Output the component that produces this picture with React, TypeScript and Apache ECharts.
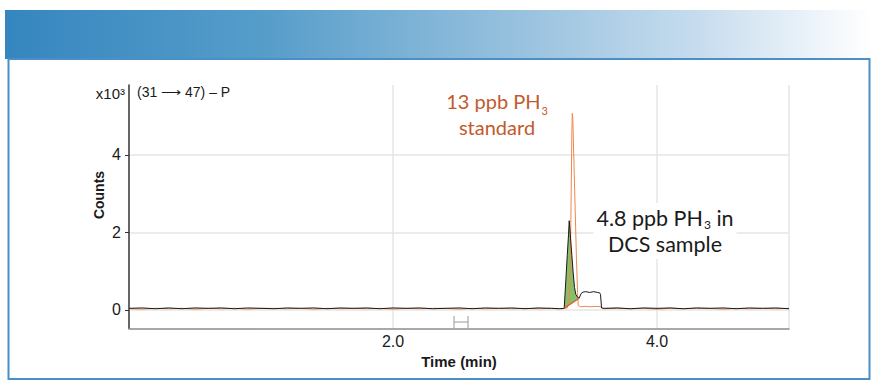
import React, { useEffect, useRef } from "react";
import * as echarts from "echarts";

// [time (min), counts (x10^3)] — 4.8 ppb PH3 in DCS sample (black)
const sampleTrace: [number, number][] = [
  [0.0, 0.04], [0.1, 0.05], [0.2, 0.03], [0.3, 0.05], [0.4, 0.03], [0.5, 0.05], [0.6, 0.04], [0.7, 0.05],
  [0.8, 0.03], [0.9, 0.05], [1.0, 0.04], [1.1, 0.03], [1.2, 0.05], [1.3, 0.04], [1.4, 0.05], [1.5, 0.03],
  [1.6, 0.05], [1.7, 0.04], [1.8, 0.05], [1.9, 0.03], [2.0, 0.05], [2.1, 0.04], [2.2, 0.05], [2.3, 0.03],
  [2.4, 0.04], [2.5, 0.05], [2.6, 0.03], [2.7, 0.05], [2.8, 0.04], [2.9, 0.05], [3.0, 0.03], [3.1, 0.05],
  [3.2, 0.04], [3.26, 0.03],
  [3.297, 0.04], [3.31, 0.8], [3.32, 1.4], [3.33, 1.95], [3.335, 2.3], [3.345, 1.85], [3.355, 1.4],
  [3.365, 0.95], [3.375, 0.58], [3.385, 0.4], [3.4, 0.32], [3.41, 0.3],
  [3.425, 0.42], [3.44, 0.46], [3.46, 0.47], [3.49, 0.45], [3.52, 0.47], [3.55, 0.45], [3.565, 0.44],
  [3.572, 0.4], [3.58, 0.05],
  [3.6, 0.04], [3.7, 0.05], [3.8, 0.03], [3.9, 0.05], [4.0, 0.04], [4.1, 0.05], [4.2, 0.03], [4.3, 0.05],
  [4.4, 0.04], [4.5, 0.05], [4.6, 0.03], [4.7, 0.05], [4.8, 0.04], [4.9, 0.05], [5.0, 0.03],
];

// [time (min), counts (x10^3)] — 13 ppb PH3 standard (orange)
const standardTrace: [number, number][] = [
  [0.0, 0.03], [0.1, 0.02], [0.2, 0.04], [0.3, 0.03], [0.4, 0.04], [0.5, 0.02], [0.6, 0.04], [0.7, 0.03],
  [0.8, 0.04], [0.9, 0.02], [1.0, 0.04], [1.1, 0.04], [1.2, 0.03], [1.3, 0.04], [1.4, 0.02], [1.5, 0.04],
  [1.6, 0.03], [1.7, 0.04], [1.8, 0.03], [1.9, 0.04], [2.0, 0.02], [2.1, 0.04], [2.2, 0.03], [2.3, 0.04],
  [2.4, 0.04], [2.5, 0.02], [2.6, 0.04], [2.7, 0.03], [2.8, 0.04], [2.9, 0.03], [3.0, 0.04], [3.1, 0.03],
  [3.2, 0.04], [3.28, 0.03],
  [3.32, 0.05], [3.335, 0.3], [3.342, 0.9], [3.35, 3.0], [3.355, 4.6], [3.358, 5.07], [3.362, 4.95],
  [3.37, 3.9], [3.38, 2.6], [3.39, 1.3], [3.398, 0.45], [3.403, 0.12],
  [3.42, 0.08], [3.46, 0.09], [3.5, 0.08], [3.54, 0.09], [3.575, 0.08], [3.59, 0.03],
  [3.7, 0.04], [3.8, 0.03], [3.9, 0.04], [4.0, 0.02], [4.1, 0.04], [4.2, 0.03], [4.3, 0.04], [4.4, 0.04],
  [4.5, 0.02], [4.6, 0.04], [4.7, 0.03], [4.8, 0.04], [4.9, 0.03], [5.0, 0.04],
];

// integration baseline under the sample peak
const integrationBaseline: [number, number][] = [[3.297, 0.04], [3.41, 0.3]];

const yTickValues = [0, 2, 4];
const xLabelValues = [2, 4];
const xGridValues = [2, 4, 5];

const Y_MIN = -0.48;
const Y_MAX = 5.8;
const X_MIN = 0;
const X_MAX = 5;

const TEXT = "#1a1a1a";
const SANS = "'Liberation Sans', Arial, sans-serif";
const ANNO = "Lato, 'Open Sans', sans-serif";

export default function App() {
  const ref = useRef<HTMLDivElement>(null);

  useEffect(() => {
    if (!ref.current) return;
    const chart = echarts.init(ref.current, undefined, { renderer: "svg" });

    const peakPolygon = sampleTrace.filter(
      (p) => p[0] >= integrationBaseline[0][0] && p[0] <= integrationBaseline[1][0]
    );

    const option: any = {
      animation: false,
      backgroundColor: "#ffffff",
      grid: { left: 129, right: 91, top: 85, bottom: 59.5, containLabel: false, outerBoundsMode: "none" },
      xAxis: {
        type: "value",
        min: X_MIN,
        max: X_MAX,
        name: "Time (min)",
        nameLocation: "middle",
        nameGap: 23,
        nameTextStyle: { fontFamily: SANS, fontWeight: "bold", fontSize: 15, color: TEXT },
        axisLine: { show: true, onZero: false, lineStyle: { color: "#8c8c8c", width: 1.5 } },
        axisTick: { show: false, customValues: xGridValues },
        axisLabel: {
          customValues: xLabelValues,
          formatter: (v: number) => v.toFixed(1),
          fontFamily: SANS,
          fontSize: 16,
          color: TEXT,
          margin: 5,
        },
        splitLine: { show: true, lineStyle: { color: "#e6e6e6", width: 1.5 } },
      },
      yAxis: {
        type: "value",
        min: Y_MIN,
        max: Y_MAX,
        axisLine: { show: true, onZero: false, lineStyle: { color: "#333333", width: 1.5 } },
        axisTick: { show: true, length: 4, customValues: yTickValues, lineStyle: { color: "#333333" } },
        axisLabel: { customValues: yTickValues, fontFamily: SANS, fontSize: 16, color: TEXT, margin: 8 },
        splitLine: { show: true, lineStyle: { color: "#e6e6e6", width: 1.5 } },
      },
      series: [
        {
          type: "custom",
          name: "peak area",
          data: peakPolygon,
          encode: { x: 0, y: 1 },
          z: 1,
          renderItem: (params: any, api: any) => {
            if (params.dataIndex !== 0) return null;
            const pts = peakPolygon.map((p) => api.coord(p));
            return {
              type: "polygon",
              shape: { points: pts },
              style: { fill: "#86bf66", stroke: "none" },
            };
          },
        },
        {
          type: "line",
          name: "13 ppb PH3 standard",
          data: standardTrace,
          showSymbol: false,
          z: 2,
          lineStyle: { color: "#f0874e", width: 1 },
        },
        {
          type: "line",
          name: "4.8 ppb PH3 in DCS sample",
          data: sampleTrace,
          showSymbol: false,
          z: 3,
          lineStyle: { color: "#1a1a1a", width: 1 },
        },
        {
          type: "line",
          name: "baseline",
          data: integrationBaseline,
          showSymbol: false,
          z: 4,
          lineStyle: { color: "#e2503a", width: 1.2 },
        },
      ],
      graphic: [
        {
          type: "rect",
          z: -10,
          shape: { x: 5, y: 10, width: 866, height: 49 },
          style: {
            fill: new echarts.graphic.LinearGradient(0, 0, 1, 0, [
              { offset: 0, color: "#3586bf" },
              { offset: 0.3, color: "#569dca" },
              { offset: 0.55, color: "#8ebcdb" },
              { offset: 0.8, color: "#c6dcee" },
              { offset: 1, color: "#ffffff" },
            ]),
          },
        },
        {
          type: "rect",
          z: 10,
          shape: { x: 8.5, y: 59, width: 861, height: 320 },
          style: { fill: "transparent", stroke: "#4b8fc9", lineWidth: 2 },
        },
        {
          type: "text",
          x: 125,
          y: 93,
          style: { text: "x10³", font: `15px ${SANS}`, fill: TEXT, align: "right", verticalAlign: "middle" },
        },
        {
          type: "text",
          x: 137,
          y: 92,
          style: { text: "(31 ⟶ 47) – P", font: `14px ${SANS}`, fill: TEXT, align: "left", verticalAlign: "middle" },
        },
        {
          type: "text",
          x: 99,
          y: 195,
          rotation: Math.PI / 2,
          style: {
            text: "Counts",
            font: `bold 14px ${SANS}`,
            fill: TEXT,
            align: "center",
            verticalAlign: "middle",
          },
        },
        {
          type: "text",
          x: 497,
          y: 114,
          z: 20,
          style: {
            text: "{a|13 ppb PH}{s|3}\n{a|standard}",
            align: "center",
            verticalAlign: "middle",
            fill: "#c25a2c",
            rich: {
              a: { fontSize: 20, fontFamily: ANNO, fill: "#c25a2c", color: "#c25a2c", lineHeight: 26 },
              s: { fontSize: 11, fontFamily: ANNO, fill: "#c25a2c", color: "#c25a2c", lineHeight: 11, padding: [18, 0, 0, 1] },
            },
          },
        },
        {
          type: "text",
          x: 665,
          y: 231,
          z: 20,
          style: {
            text: "{a|4.8 ppb PH}{s|3}{a| in}\n{a|DCS sample}",
            align: "center",
            verticalAlign: "middle",
            fill: TEXT,
            backgroundColor: "#ffffff",
            padding: [2, 3, 2, 3],
            rich: {
              a: { fontSize: 21.5, fontFamily: ANNO, fill: TEXT, color: TEXT, lineHeight: 26 },
              s: { fontSize: 12, fontFamily: ANNO, fill: TEXT, color: TEXT, lineHeight: 12, padding: [12, 0, 0, 1] },
            },
          },
        },
        {
          type: "group",
          z: 20,
          children: [
            { type: "line", shape: { x1: 454, y1: 316, x2: 454, y2: 328 }, style: { stroke: "#9a9a9a", lineWidth: 1 } },
            { type: "line", shape: { x1: 468, y1: 316, x2: 468, y2: 328 }, style: { stroke: "#9a9a9a", lineWidth: 1 } },
            { type: "line", shape: { x1: 454, y1: 322, x2: 468, y2: 322 }, style: { stroke: "#9a9a9a", lineWidth: 1 } },
          ],
        },
      ],
    };

    chart.setOption(option);
    return () => chart.dispose();
  }, []);

  return (
    <div
      ref={ref}
      style={{ position: "fixed", left: 0, top: 0, width: 880, height: 388, background: "#ffffff" }}
    />
  );
}
